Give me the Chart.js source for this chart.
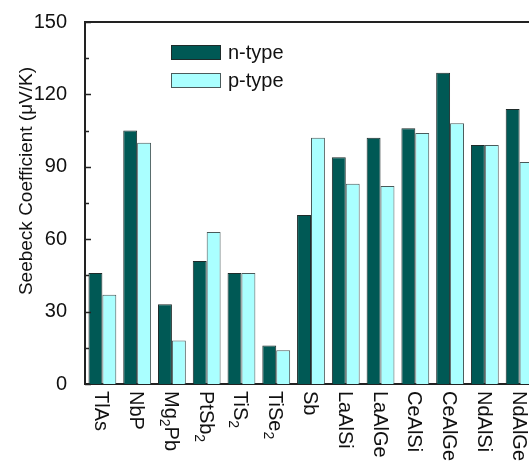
<!DOCTYPE html>
<html>
<head>
<meta charset="utf-8">
<script src="https://cdn.jsdelivr.net/npm/chart.js@4.4.1/dist/chart.umd.min.js"></script>
<style>
  html, body { margin: 0; padding: 0; overflow: hidden; background: #fff; width: 529px; height: 468px; }
  #wrap { position: absolute; left: 0; top: 0; width: 560px; height: 468px; }
</style>
</head>
<body>
<div id="wrap"><canvas id="c" width="560" height="468"></canvas></div>
<script>
// Seebeck coefficients (μV/K) of the compounds, n- and p-type carriers
const compounds = ['TlAs', 'NbP', 'Mg2Pb', 'PtSb2', 'TiS2', 'TiSe2', 'Sb', 'LaAlSi', 'LaAlGe', 'CeAlSi', 'CeAlGe', 'NdAlSi', 'NdAlGe'];
const nType = [46, 105, 33, 51, 46, 16, 70, 94, 102, 106, 129, 99, 114];
const pType = [37, 100, 18, 63, 46, 14, 102, 83, 82, 104, 108, 99, 92];
const seriesNames = ['n-type', 'p-type'];
const yRange = [0, 150];
const yStep = 30;
const yTitle = 'Seebeck Coefficient (\u03bcV/K)';

const FONT = '"Liberation Sans", Arial, sans-serif';
const INK = '#111';
const AXIS = '#222';

// Split a formula like "Mg2Pb" into plain and subscript runs
function formulaRuns(s) {
  return s.match(/\d+|\D+/g).map(t => ({ text: t, sub: /^\d+$/.test(t) }));
}

const decorations = {
  id: 'decorations',
  afterDraw(chart) {
    const { ctx, chartArea: area, scales } = chart;
    const xs = scales.x, ys = scales.y;
    ctx.save();

    // top frame line
    ctx.strokeStyle = AXIS;
    ctx.lineWidth = 2;
    ctx.beginPath();
    ctx.moveTo(area.left - 1, area.top);
    ctx.lineTo(chart.width, area.top);
    ctx.stroke();

    // inward major / minor ticks on the value axis
    ctx.lineWidth = 1.5;
    for (let v = yRange[0]; v <= yRange[1]; v += yStep / 2) {
      const y = Math.round(ys.getPixelForValue(v)) + 0.5;
      const len = (v % yStep === 0) ? 6 : 4;
      ctx.beginPath();
      ctx.moveTo(area.left, y);
      ctx.lineTo(area.left + len, y);
      ctx.stroke();
    }

    // value axis title
    ctx.fillStyle = INK;
    ctx.font = '19px ' + FONT;
    ctx.textAlign = 'center';
    ctx.textBaseline = 'alphabetic';
    ctx.save();
    ctx.translate(32, 181);
    ctx.rotate(-Math.PI / 2);
    ctx.fillText(yTitle, 0, 0);
    ctx.restore();

    // category labels, reading top to bottom, digits as subscripts
    ctx.textAlign = 'left';
    chart.data.labels.forEach((lab, i) => {
      const x = xs.getPixelForTick(i);
      ctx.save();
      ctx.translate(x, area.bottom + 7);
      ctx.rotate(Math.PI / 2);
      let pos = 0;
      formulaRuns(lab).forEach(r => {
        ctx.font = (r.sub ? '14px ' : '20px ') + FONT;
        ctx.fillText(r.text, pos, r.sub ? 12 : 7);
        pos += ctx.measureText(r.text).width;
      });
      ctx.restore();
    });

    // legend
    ctx.font = '20px ' + FONT;
    ctx.textBaseline = 'middle';
    chart.data.datasets.forEach((ds, i) => {
      const top = 45 + i * 28;
      ctx.fillStyle = ds.backgroundColor;
      ctx.fillRect(171, top, 50, 15);
      ctx.strokeStyle = ds.borderColor;
      ctx.lineWidth = 1;
      ctx.strokeRect(171.5, top + 0.5, 49, 14);
      ctx.fillStyle = INK;
      ctx.fillText(ds.label, 228, top + 8);
    });

    ctx.restore();
  }
};

new Chart(document.getElementById('c'), {
  type: 'bar',
  data: {
    labels: compounds,
    datasets: [
      { label: seriesNames[0], data: nType, backgroundColor: '#005955', borderColor: '#1e2b2a', borderWidth: 1 },
      { label: seriesNames[1], data: pType, backgroundColor: '#aaffff', borderColor: '#4a5a5a', borderWidth: 1 }
    ]
  },
  options: {
    responsive: false,
    devicePixelRatio: 1,
    animation: false,
    events: [],
    layout: { padding: { top: 22, right: 23, left: 0, bottom: 0 } },
    datasets: { bar: { categoryPercentage: 0.8, barPercentage: 1.0, borderSkipped: 'start' } },
    plugins: { legend: { display: false }, tooltip: { enabled: false } },
    scales: {
      x: {
        type: 'category',
        offset: true,
        grid: { display: false },
        ticks: { display: false },
        border: { display: true, width: 2, color: AXIS },
        afterFit(scale) { scale.height = 84; }
      },
      y: {
        min: yRange[0],
        max: yRange[1],
        grid: { display: false },
        border: { display: true, width: 2, color: AXIS },
        ticks: { stepSize: yStep, padding: 10, color: INK, font: { size: 20, family: FONT } },
        afterFit(scale) { scale.width = 85; }
      }
    }
  },
  plugins: [decorations]
});
</script>
</body>
</html>
